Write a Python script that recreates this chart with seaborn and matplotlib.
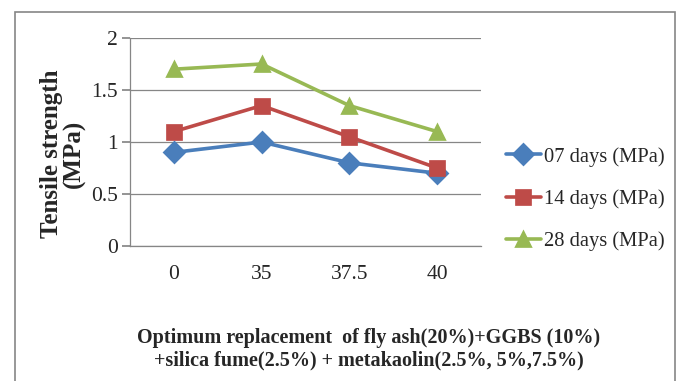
import matplotlib
matplotlib.use("Agg")
import matplotlib.pyplot as plt
import seaborn as sns
import pandas as pd
from matplotlib.patches import Rectangle

categories = ["0", "35", "37.5", "40"]
d07 = [0.9, 1.0, 0.8, 0.7]
d14 = [1.1, 1.35, 1.05, 0.75]
d28 = [1.7, 1.75, 1.35, 1.1]
series_names = ["07 days (MPa)", "14 days (MPa)", "28 days (MPa)"]
y_ticks = [0, 0.5, 1, 1.5, 2]
y_tick_labels = ["0", "0.5", "1", "1.5", "2"]

rows = []
for name, vals in zip(series_names, [d07, d14, d28]):
    for c, v in zip(categories, vals):
        rows.append({"cat": c, "val": v, "series": name})
df = pd.DataFrame(rows)

sns.set_theme(style="white")
plt.rcParams["font.family"] = ["Liberation Serif", "DejaVu Serif"]

fig = plt.figure(figsize=(6.81, 3.81), dpi=100)
ax = fig.add_axes([130/681, 1-246/381, (481-130)/681, (246-38)/381])

colors = ["#4A7EBB", "#BE4B48", "#98B954"]
sns.pointplot(data=df, x="cat", y="val", hue="series", order=categories,
              hue_order=series_names, palette=colors, markers=["D", "s", "^"],
              linestyles=["-", "-", "-"], ax=ax, markersize=10.5, linewidth=2.6,
              errorbar=None)

ax.set_xlim(-0.5, 3.5)
ax.set_ylim(0, 2)
ax.set_yticks(y_ticks)
ax.set_yticklabels(y_tick_labels)
ax.yaxis.grid(True, color="#868686", linewidth=0.9)
ax.xaxis.grid(False)
for s in ["top", "right"]:
    ax.spines[s].set_visible(False)
ax.spines["left"].set_color("#868686")
ax.spines["bottom"].set_color("#868686")
ax.spines["left"].set_linewidth(0.9)
ax.spines["bottom"].set_linewidth(0.9)
ax.tick_params(axis="y", which="both", left=True, length=6, color="#868686",
               labelsize=15.5, pad=3)
ax.tick_params(axis="x", bottom=False, labelsize=15.5, pad=8)
ax.set_xlabel("")
ax.set_ylabel("")

fig.text(63/681, 1-154/381, "Tensile strength\n(MPa)", rotation=90,
         ha="center", va="center", fontsize=18, fontweight="bold",
         linespacing=1.0)
fig.text(369/681, 1-349/381,
         "Optimum replacement  of fly ash(20%)+GGBS (10%)\n+silica fume(2.5%) + metakaolin(2.5%, 5%,7.5%)",
         ha="center", va="center", fontsize=14.5, fontweight="bold",
         linespacing=1.2)

handles, labels = ax.get_legend_handles_labels()
leg = ax.legend(handles, labels, loc="center left",
                bbox_to_anchor=(506/681, 1-199/381), bbox_transform=fig.transFigure,
                frameon=False, fontsize=14.8, handlelength=1.7, handletextpad=0.15,
                labelspacing=1.1, borderaxespad=0, borderpad=0)

fig.patches.append(Rectangle((15/681, -0.05), (675-15)/681, 1.05-12/381,
                             transform=fig.transFigure, fill=False,
                             edgecolor="#868686", linewidth=1.2))

fig.savefig("out.png", dpi=100)
